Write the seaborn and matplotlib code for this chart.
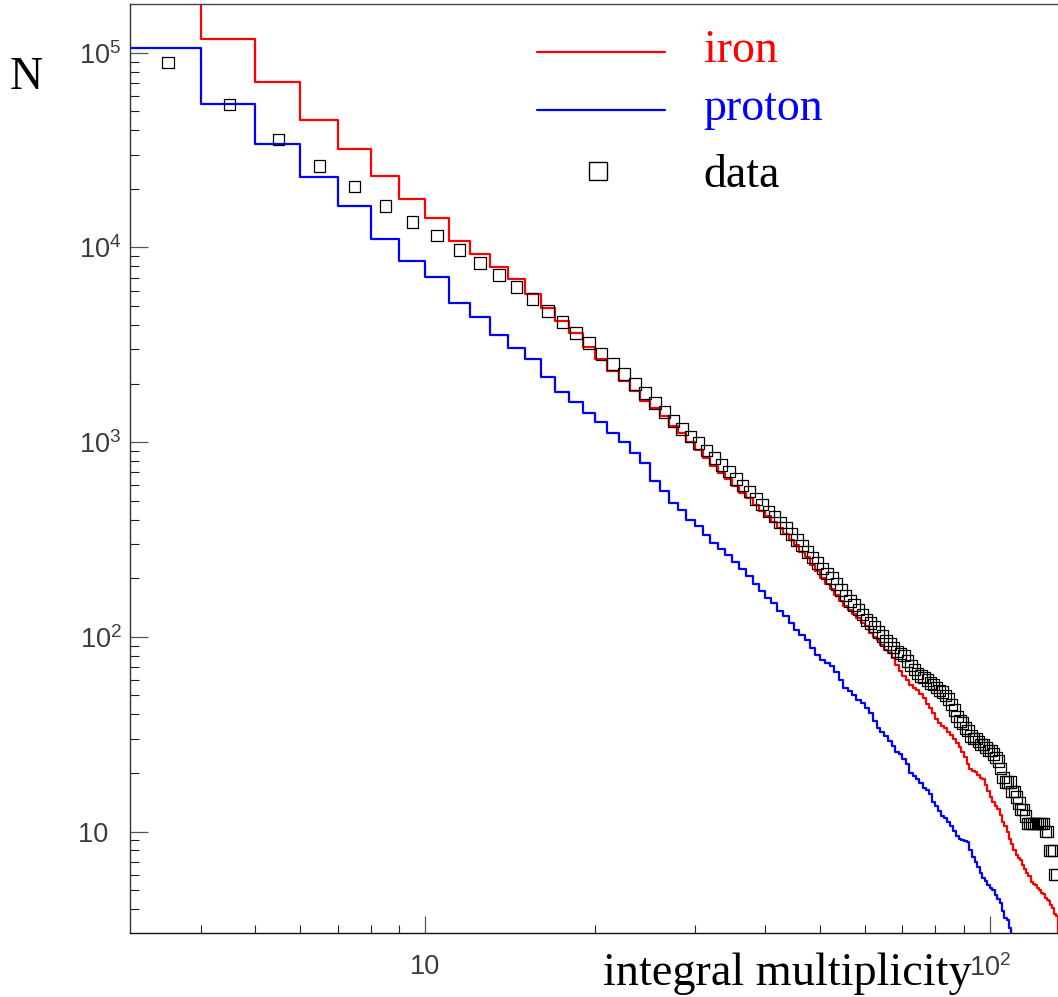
import matplotlib
matplotlib.use("Agg")
import matplotlib.pyplot as plt
import seaborn as sns
import numpy as np
import pandas as pd
from matplotlib.lines import Line2D
from matplotlib.ticker import FixedLocator, FixedFormatter, NullFormatter

# ---------------- data ----------------
iron_bins = list(range(3, 133))
iron_N = [2.0e5, 117500, 71000, 45000, 32100, 23400, 17700, 14100, 10800, 9260,
          7900, 6870, 5770, 4870, 4195, 3627, 3096, 2677, 2323, 2064,
          1840, 1630, 1495, 1365, 1217, 1112, 1007, 913, 831, 755,
          698, 646, 596, 551, 516, 477, 444, 415, 387, 362,
          337, 315, 295, 273, 256, 234, 218, 201, 187, 177,
          164, 153, 144, 138, 131, 125, 118, 113, 105, 100,
          96.6, 91.1, 85.9, 82.9, 78.1, 71.9, 67.0, 63.1, 60.2, 56.8,
          54.8, 53.5, 51.0, 48.7, 45.4, 43.3, 40.8, 38.0, 36.2, 35.0,
          34.2, 32.6, 31.4, 30.0, 28.6, 27.3, 25.7, 24.0, 22.3, 21.0,
          20.5, 20.1, 19.4, 18.9, 18.5, 17.4, 16.2, 15.1, 14.1, 13.6,
          13.0, 12.1, 11.2, 10.7, 9.9, 9.2, 8.6, 8.0, 7.6, 7.35,
          7.1, 6.7, 6.4, 6.15, 5.9, 5.5, 5.4, 5.3, 5.15, 5.0,
          4.86, 4.75, 4.58, 4.47, 4.37, 4.21, 4.07, 3.79, 3.70, 2.5]

proton_bins = list(range(3, 111))
proton_N = [106000, 54700, 34000, 23100, 16400, 11100, 8550, 7080, 5207, 4382,
            3542, 3038, 2677, 2164, 1806, 1605, 1414, 1267, 1116, 1004,
            878, 779, 628, 558, 488, 447, 399, 369, 334, 303,
            281, 262, 243, 223, 206, 187, 172, 159, 149, 135,
            128.5, 117.8, 107.9, 102.5, 96.6, 87.6, 81, 75.7, 73, 70.5,
            65.8, 60.2, 54.7, 52.6, 50.4, 47.5, 45.5, 43.3, 40.4, 37.1,
            34.2, 32.3, 30.9, 29.3, 27.4, 25.7, 24.9, 23.7, 22.1, 19.9,
            19.2, 18.7, 17.7, 16.8, 16.4, 15.5, 14.1, 13.6, 12.7, 12.0,
            11.7, 11.2, 10.7, 10.1, 9.5, 9.2, 9.0, 8.9, 8.8, 8.07,
            7.4, 7.0, 6.6, 6.1, 5.8, 5.6, 5.3, 5.1, 5.0, 4.7,
            4.5, 4.3, 3.9, 3.6, 3.5, 3.2, 2.5, 2.5]

data_m = [m + 0.5 for m in range(3, 132)]
data_N = [89300, 54100, 35800, 26200, 20500, 16300, 13500, 11500, 9700, 8300,
          7220, 6250, 5440, 4721, 4146, 3640, 3223, 2829, 2515, 2242,
          1992, 1784, 1586, 1430, 1286, 1170, 1068, 988, 906, 828,
          765, 706, 648, 597, 558, 510, 477, 440, 415, 387,
          363, 338, 315, 294, 273, 255, 240, 224, 211, 201,
          187, 174, 163, 153, 146, 138, 130, 122, 118, 113,
          106, 101, 95.5, 92, 88, 84, 82, 80, 75, 71,
          68, 65, 63, 62, 60, 58, 57, 55, 53, 52,
          50, 48, 45, 42, 39, 37, 36, 34, 33, 31,
          30, 30, 29, 28, 28, 27, 26, 26, 25, 24,
          23, 21, 19, 18, 18, 18, 16, 16, 15, 14,
          13, 13, 12, 11, 11, 11, 11, 11, 11, 11,
          11, 11, 10, 10, 8, 8, 8, 6, 6]

x_major = [10, 100]
x_major_labels = ["10", r"$\mathregular{10^{2}}$"]
x_minor = [4, 5, 6, 7, 8, 9, 20, 30, 40, 50, 60, 70, 80, 90]
y_major = [10, 100, 1000, 10000, 100000]
y_major_labels = ["10\u2002", r"$\mathregular{10^{2}}$", r"$\mathregular{10^{3}}$",
                  r"$\mathregular{10^{4}}$", r"$\mathregular{10^{5}}$"]
y_minor = [k * 10 ** e for e in range(0, 5) for k in range(2, 10) if 3 < k * 10 ** e < 1.78e5]

legend_labels = ["iron", "proton", "data"]
x_title = "integral multiplicity"
y_title = "N"

# ---------------- figure ----------------
sns.set_style("ticks")
plt.rcParams["font.family"] = ["Liberation Serif", "DejaVu Serif"]
plt.rcParams["mathtext.fontset"] = "custom"
plt.rcParams["mathtext.rm"] = "Liberation Sans"

W, H = 1058, 997
fig = plt.figure(figsize=(W / 100, H / 100), dpi=100)
ax = fig.add_axes([130 / W, 1 - 933.3 / H, (W - 130) / W, (933.3 - 4) / H])


def steps(bins, vals):
    x = list(bins) + [bins[-1] + 1]
    y = list(vals) + [vals[-1]]
    return pd.DataFrame({"x": x, "y": y})


df_iron = steps(iron_bins, iron_N)
df_proton = steps(proton_bins, proton_N)
df_data = pd.DataFrame({"x": data_m, "y": data_N})

sns.lineplot(data=df_iron, x="x", y="y", drawstyle="steps-post", color="#ff0000",
             lw=1.6, estimator=None, sort=True, ax=ax, zorder=2)
sns.lineplot(data=df_proton, x="x", y="y", drawstyle="steps-post", color="#0000ff",
             lw=1.6, estimator=None, sort=True, ax=ax, zorder=2)
sns.scatterplot(data=df_data, x="x", y="y", marker="s", s=68, color="black",
                facecolor="none", edgecolor="black", linewidth=0.9, ax=ax, zorder=3)

ax.set_xscale("log")
ax.set_yscale("log")
ax.set_xlim(3, 132)
ax.set_ylim(3.0, 1.78e5)

ax.xaxis.set_major_locator(FixedLocator(x_major))
ax.xaxis.set_major_formatter(FixedFormatter(x_major_labels))
ax.xaxis.set_minor_locator(FixedLocator(x_minor))
ax.xaxis.set_minor_formatter(NullFormatter())
ax.yaxis.set_major_locator(FixedLocator(y_major))
ax.yaxis.set_major_formatter(FixedFormatter(y_major_labels))
ax.yaxis.set_minor_locator(FixedLocator(y_minor))
ax.yaxis.set_minor_formatter(NullFormatter())

ax.tick_params(axis="both", which="both", direction="in", top=False, right=False)
ax.tick_params(axis="y", which="major", length=13, width=0.9, color="#555555", pad=6,
               labelsize=19.5, labelcolor="#3a3a3a")
ax.tick_params(axis="y", which="minor", length=6.5, width=0.8, color="#222222")
ax.tick_params(axis="x", which="major", length=12, width=0.9, color="#555555", pad=15,
               labelsize=19.5, labelcolor="#3a3a3a")
ax.tick_params(axis="x", which="minor", length=6, width=0.8, color="#222222")
for lab in ax.get_xticklabels() + ax.get_yticklabels():
    lab.set_fontfamily("Liberation Sans")

ax.set_xlabel("")
ax.set_ylabel("")
for side in ["left", "top", "bottom"]:
    ax.spines[side].set_linewidth(1.0)
ax.spines["left"].set_color("#333333")
ax.spines["top"].set_color("#444444")
ax.spines["bottom"].set_color("#111111")
ax.spines["right"].set_visible(False)
if ax.get_legend() is not None:
    ax.get_legend().remove()

# axis titles
fig.text(10 / W, 1 - 89 / H, y_title, fontsize=33, va="baseline", ha="left", color="black")
fig.text(972 / W, 1 - 985 / H, x_title, fontsize=33.3, va="baseline", ha="right", color="black")

# legend (drawn by hand, ROOT-like)
fig.add_artist(Line2D([537 / W, 665 / W], [1 - 52 / H] * 2, color="#ff0000", lw=1.6,
                      transform=fig.transFigure))
fig.add_artist(Line2D([537 / W, 665 / W], [1 - 110 / H] * 2, color="#0000ff", lw=1.6,
                      transform=fig.transFigure))
fig.add_artist(Line2D([598 / W], [1 - 171 / H], marker="s", ms=13, mfc="none", mec="black",
                      mew=1.0, ls="none", transform=fig.transFigure))
fig.text(704 / W, 1 - 62 / H, legend_labels[0], fontsize=33, color="#ff0000", va="baseline")
fig.text(703 / W, 1 - 120 / H, legend_labels[1], fontsize=33, color="#0000ff", va="baseline")
fig.text(703 / W, 1 - 187 / H, legend_labels[2], fontsize=33, color="black", va="baseline")

fig.savefig("out.png", dpi=100)
